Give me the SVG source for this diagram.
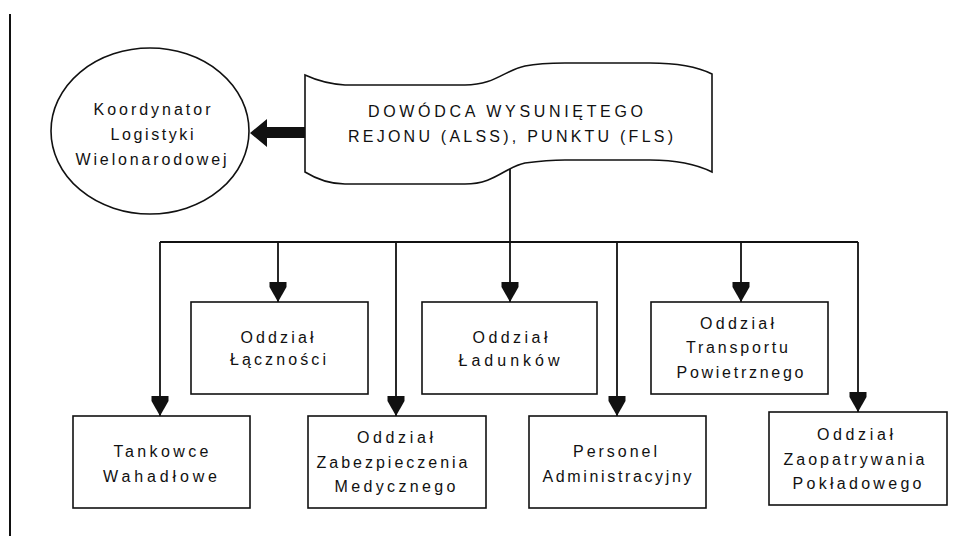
<svg xmlns="http://www.w3.org/2000/svg" width="973" height="536" viewBox="0 0 973 536">
<style>
.shape{fill:#fff;stroke:#111;stroke-width:1.6}
.line{fill:none;stroke:#111;stroke-width:1.8}
.t{font-family:"Liberation Sans",Arial,sans-serif;font-size:16px;fill:#111;text-anchor:middle}
</style>
<defs>
<marker id="arr" viewBox="0 -9 20 18" refX="20" refY="0" markerWidth="20" markerHeight="18" markerUnits="userSpaceOnUse" orient="auto">
<path d="M0,-8.5 L5,-8.5 L20,0 L5,8.5 L0,8.5 Z" fill="#111"/>
</marker>
</defs>
<rect width="973" height="536" fill="#fff"/>
<line x1="10" y1="14" x2="10" y2="536" stroke="#111" stroke-width="2"/>

<g id="connectors">
<polygon points="306,127 267,127 267,119 250,133 267,147 267,138 306,138" fill="#111"/>
<path class="line" d="M510,168 V242 M160,242 H858"/>
<path class="line" d="M160,242 V416" marker-end="url(#arr)"/>
<path class="line" d="M278,242 V302" marker-end="url(#arr)"/>
<path class="line" d="M396,242 V416" marker-end="url(#arr)"/>
<path class="line" d="M510,242 V302" marker-end="url(#arr)"/>
<path class="line" d="M617,242 V416" marker-end="url(#arr)"/>
<path class="line" d="M741,242 V302" marker-end="url(#arr)"/>
<path class="line" d="M858,242 V412" marker-end="url(#arr)"/>
</g>

<g id="koordynator">
<ellipse class="shape" cx="150" cy="131" rx="99" ry="83"/>
<text class="t" x="152" y="115" textLength="117" lengthAdjust="spacing">Koordynator</text>
<text class="t" x="152" y="140" textLength="83" lengthAdjust="spacing">Logistyki</text>
<text class="t" x="151" y="165" textLength="151" lengthAdjust="spacing">Wielonarodowej</text>
</g>

<g id="dowodca">
<path class="shape" d="M305,75 C318,81 330,84 345,85 L465,85 C495,85 505,70 525,66 C540,63 550,63 565,63 L650,63 C680,63 700,68 712,74 L712,172 C700,166 680,160 650,160 L565,160 C550,160 540,161 525,163 C505,167 495,184 465,184 L345,184 C330,184 318,180 305,172 Z"/>
<text class="t" x="505.5" y="117" textLength="275" lengthAdjust="spacing">DOWÓDCA WYSUNIĘTEGO</text>
<text class="t" x="510.5" y="142" textLength="325" lengthAdjust="spacing">REJONU (ALSS), PUNKTU (FLS)</text>
</g>

<g id="tankowce">
<rect class="shape" x="73" y="416" width="177" height="92"/>
<text class="t" x="161" y="457" textLength="95" lengthAdjust="spacing">Tankowce</text>
<text class="t" x="160" y="482" textLength="114" lengthAdjust="spacing">Wahadłowe</text>
</g>

<g id="lacznosci">
<rect class="shape" x="191" y="302" width="177" height="92"/>
<text class="t" x="277" y="343" textLength="73" lengthAdjust="spacing">Oddział</text>
<text class="t" x="278" y="365" textLength="96" lengthAdjust="spacing">Łączności</text>
</g>

<g id="zabezpieczenia">
<rect class="shape" x="308" y="416" width="178" height="92"/>
<text class="t" x="395" y="443" textLength="76" lengthAdjust="spacing">Oddział</text>
<text class="t" x="392" y="468" textLength="151" lengthAdjust="spacing">Zabezpieczenia</text>
<text class="t" x="395" y="492" textLength="121" lengthAdjust="spacing">Medycznego</text>
</g>

<g id="ladunkow">
<rect class="shape" x="422" y="302" width="175" height="92"/>
<text class="t" x="510" y="343" textLength="75" lengthAdjust="spacing">Oddział</text>
<text class="t" x="509" y="366" textLength="101" lengthAdjust="spacing">Ładunków</text>
</g>

<g id="personel">
<rect class="shape" x="529" y="416" width="177" height="92"/>
<text class="t" x="615" y="457" textLength="84" lengthAdjust="spacing">Personel</text>
<text class="t" x="617" y="482" textLength="149" lengthAdjust="spacing">Administracyjny</text>
</g>

<g id="transportu">
<rect class="shape" x="651" y="302" width="177" height="92"/>
<text class="t" x="737" y="329" textLength="74" lengthAdjust="spacing">Oddział</text>
<text class="t" x="737" y="353" textLength="102" lengthAdjust="spacing">Transportu</text>
<text class="t" x="740" y="378" textLength="127" lengthAdjust="spacing">Powietrznego</text>
</g>

<g id="zaopatrywania">
<rect class="shape" x="769" y="412" width="178" height="93"/>
<text class="t" x="855" y="440" textLength="76" lengthAdjust="spacing">Oddział</text>
<text class="t" x="854" y="465" textLength="141" lengthAdjust="spacing">Zaopatrywania</text>
<text class="t" x="857" y="489" textLength="129" lengthAdjust="spacing">Pokładowego</text>
</g>
</svg>
